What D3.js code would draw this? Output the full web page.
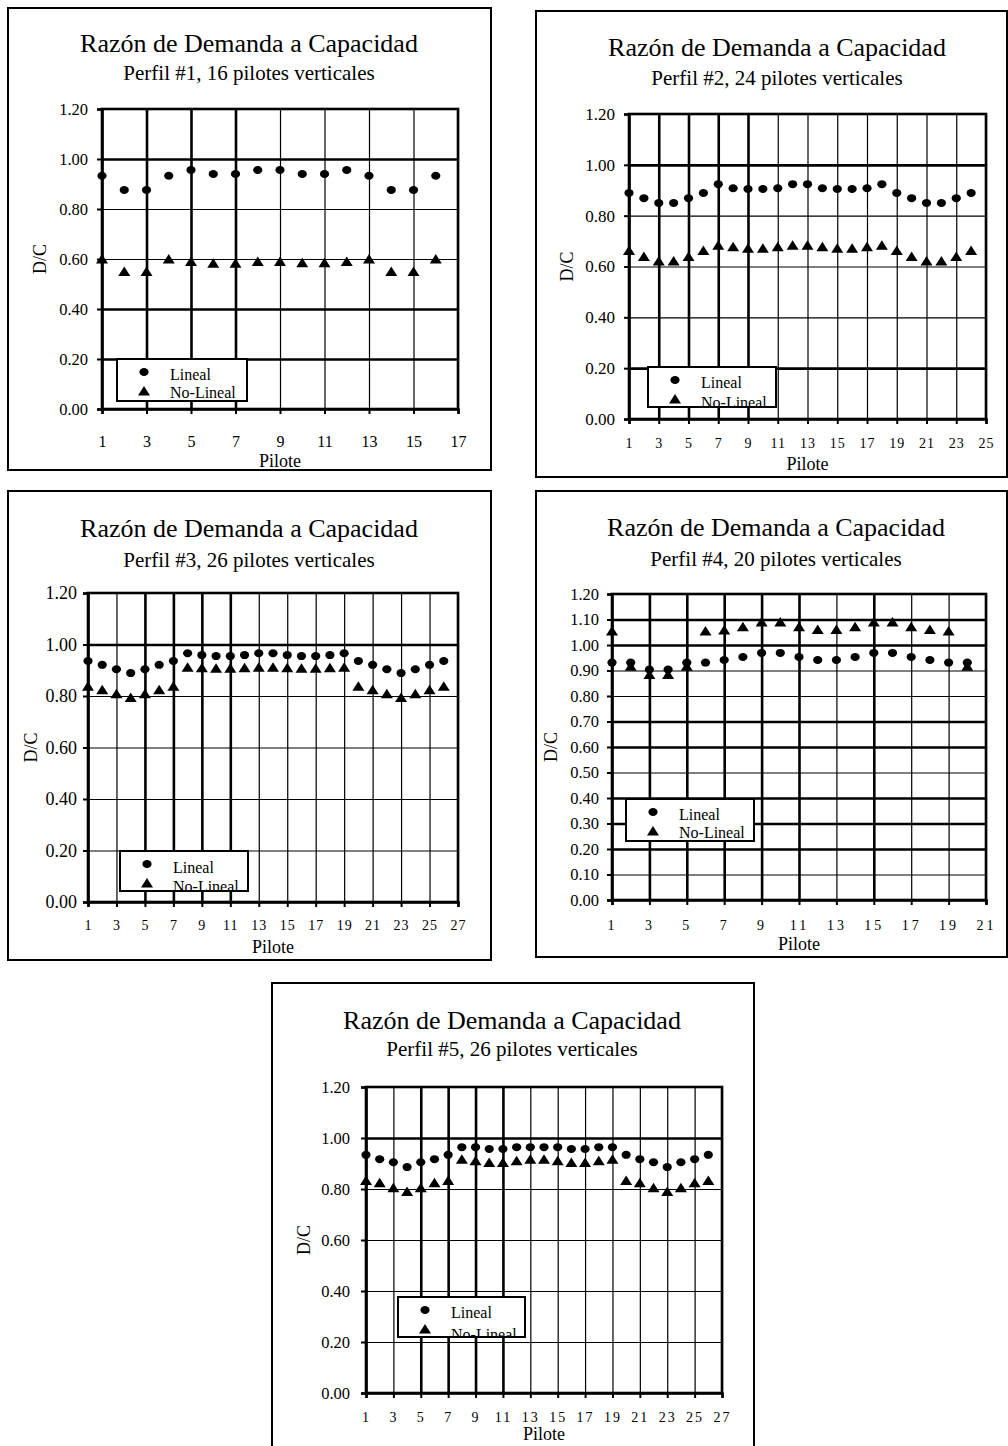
<!DOCTYPE html>
<html lang="es">
<head>
<meta charset="UTF-8">
<title>Razón de Demanda a Capacidad</title>
<script src="https://d3js.org/d3.v7.min.js"></script>
<style>
  body { margin: 0; background: #fff; }
  svg { display: block; font-family: "Liberation Serif", "Times New Roman", serif; }
</style>
</head>
<body>
<script>
const titulo = "Razón de Demanda a Capacidad";
const subtitulos = [
  "Perfil #1, 16 pilotes verticales",
  "Perfil #2, 24 pilotes verticales",
  "Perfil #3, 26 pilotes verticales",
  "Perfil #4, 20 pilotes verticales",
  "Perfil #5, 26 pilotes verticales"
];
const series = ["Lineal", "No-Lineal"];

// valores D/C, un valor por pilote (1..N)
const lineal1   = [0.933, 0.876, 0.876, 0.933, 0.956, 0.940, 0.940, 0.956, 0.956, 0.940, 0.940, 0.956, 0.933, 0.876, 0.876, 0.933];
const noLineal1 = [0.600, 0.550, 0.550, 0.600, 0.590, 0.583, 0.583, 0.590, 0.590, 0.585, 0.585, 0.590, 0.600, 0.550, 0.550, 0.600];

const lineal2   = [0.889, 0.869, 0.850, 0.850, 0.869, 0.889, 0.924, 0.908, 0.905, 0.905, 0.908, 0.924,
                   0.924, 0.908, 0.905, 0.905, 0.908, 0.924, 0.889, 0.869, 0.850, 0.850, 0.869, 0.889];
const noLineal2 = [0.663, 0.639, 0.622, 0.622, 0.639, 0.663, 0.684, 0.678, 0.672, 0.672, 0.678, 0.684,
                   0.684, 0.678, 0.672, 0.672, 0.678, 0.684, 0.663, 0.639, 0.622, 0.622, 0.639, 0.663];

const lineal3   = [0.936, 0.921, 0.904, 0.889, 0.904, 0.921, 0.936, 0.966, 0.959, 0.955, 0.955, 0.959, 0.966,
                   0.966, 0.959, 0.955, 0.955, 0.959, 0.966, 0.936, 0.921, 0.904, 0.889, 0.904, 0.921, 0.936];
const noLineal3 = [0.838, 0.824, 0.809, 0.794, 0.809, 0.824, 0.838, 0.912, 0.910, 0.908, 0.908, 0.910, 0.912,
                   0.912, 0.910, 0.908, 0.908, 0.910, 0.912, 0.838, 0.824, 0.809, 0.794, 0.809, 0.824, 0.838];

const lineal4   = [0.931, 0.931, 0.904, 0.904, 0.931, 0.931, 0.941, 0.953, 0.969, 0.969,
                   0.953, 0.941, 0.941, 0.953, 0.969, 0.969, 0.953, 0.941, 0.931, 0.931];
const noLineal4 = [1.055, 0.917, 0.884, 0.884, 0.917, 1.055, 1.059, 1.072, 1.090, 1.090,
                   1.072, 1.061, 1.061, 1.072, 1.090, 1.090, 1.072, 1.061, 1.055, 0.917];

const lineal5   = [0.934, 0.917, 0.905, 0.886, 0.905, 0.917, 0.934, 0.964, 0.964, 0.957, 0.957, 0.964, 0.964,
                   0.964, 0.964, 0.957, 0.957, 0.964, 0.964, 0.934, 0.917, 0.905, 0.886, 0.905, 0.917, 0.934];
const noLineal5 = [0.833, 0.825, 0.805, 0.790, 0.805, 0.825, 0.833, 0.917, 0.911, 0.904, 0.904, 0.911, 0.917,
                   0.917, 0.911, 0.904, 0.904, 0.911, 0.917, 0.833, 0.825, 0.805, 0.790, 0.805, 0.825, 0.833];

const xTicks1 = [1, 3, 5, 7, 9, 11, 13, 15, 17];
const xTicks2 = [1, 3, 5, 7, 9, 11, 13, 15, 17, 19, 21, 23, 25];
const xTicks3 = [1, 3, 5, 7, 9, 11, 13, 15, 17, 19, 21, 23, 25, 27];
const xTicks4 = [1, 3, 5, 7, 9, 11, 13, 15, 17, 19, 21];
const xTicks5 = [1, 3, 5, 7, 9, 11, 13, 15, 17, 19, 21, 23, 25, 27];

const yTicks  = [0, 0.2, 0.4, 0.6, 0.8, 1.0, 1.2];
const yTicks4 = [0, 0.1, 0.2, 0.3, 0.4, 0.5, 0.6, 0.7, 0.8, 0.9, 1.0, 1.1, 1.2];

const W = 1008, H = 1446;
const svg = d3.select("body").append("svg")
    .attr("width", W)
    .attr("height", H);

// posicion de cada panel en la pagina; gx/gy = lineas de rejilla que salen mas gruesas
const paneles = [
  { frame: [8, 8, 491, 470], plot: [102, 109, 458, 409], cx: 249, tY: 52, sY: 80,
    dcX: 40, yPad: 9, yFont: 16.5, xPad: 22, xFont: 16, xLs: 0, pY: 467,
    leg: [117, 359, 130, 42], legRows: [21, 39], gx: [3, 5, 7], gy: [1.0, 0.4, 0.2] },
  { frame: [536, 11, 1007, 477], plot: [629, 114, 986, 419], cx: 777, tY: 56, sY: 85,
    dcX: 567, yPad: 9, yFont: 17, xPad: 14, xFont: 14, xLs: 1, pY: 470,
    leg: [648, 367, 128, 40], legRows: [21, 41], gx: [3, 5, 7, 9], gy: [1.0, 0.2] },
  { frame: [8, 491, 491, 960], plot: [88, 593, 458, 902], cx: 249, tY: 537, sY: 567,
    dcX: 31, yPad: 6, yFont: 18, xPad: 13, xFont: 14, xLs: 1, pY: 953,
    leg: [120, 851, 128, 40], legRows: [22, 41], gx: [5, 7, 9, 11], gy: [1.0] },
  { frame: [536, 491, 1007, 957], plot: [612, 594, 986, 900], cx: 776, tY: 536, sY: 566,
    dcX: 551, yPad: 8, yFont: 16.5, xPad: 15, xFont: 14, xLs: 3, pY: 950,
    leg: [626, 799, 128, 42], legRows: [21, 39], gx: [3, 5, 7, 9, 11, 15],
    gy: [1.1, 1.0, 0.7, 0.6, 0.4, 0.3, 0.2] },
  { frame: [272, 983, 754, 1450], plot: [366, 1087, 722, 1393], cx: 512, tY: 1029, sY: 1056,
    dcX: 304, yPad: 11, yFont: 16.5, xPad: 14, xFont: 14, xLs: 2, pY: 1440,
    leg: [398, 1297, 127, 40], legRows: [21, 43], gx: [5, 7, 9, 11], gy: [1.0] }
];

const datos = [
  [lineal1, noLineal1, xTicks1, yTicks],
  [lineal2, noLineal2, xTicks2, yTicks],
  [lineal3, noLineal3, xTicks3, yTicks],
  [lineal4, noLineal4, xTicks4, yTicks4],
  [lineal5, noLineal5, xTicks5, yTicks]
];

const triangulo = "M0,-5L6,4.5L-6,4.5Z";
const grueso = (lista, v) => lista.some(t => Math.abs(t - v) < 1e-6) ? 2.6 : 1.2;

paneles.forEach((p, k) => {
  const [lin, nolin, xt, yt] = datos[k];
  const [x0, y0, x1, y1] = p.plot;
  const g = svg.append("g");

  // marco del panel
  g.append("rect")
      .attr("x", p.frame[0]).attr("y", p.frame[1])
      .attr("width", p.frame[2] - p.frame[0])
      .attr("height", p.frame[3] - p.frame[1])
      .attr("fill", "none").attr("stroke", "#000").attr("stroke-width", 2);

  g.append("text").attr("x", p.cx).attr("y", p.tY)
      .attr("text-anchor", "middle").attr("font-size", 26).text(titulo);
  g.append("text").attr("x", p.cx).attr("y", p.sY)
      .attr("text-anchor", "middle").attr("font-size", 21).text(subtitulos[k]);

  const x = d3.scaleLinear().domain([xt[0], xt[xt.length - 1]]).range([x0, x1]);
  const y = d3.scaleLinear().domain([0, 1.2]).range([y1, y0]);

  // rejilla
  g.append("g")
      .attr("transform", `translate(0,${y1})`)
      .call(d3.axisBottom(x).tickValues(xt).tickSize(-(y1 - y0)).tickFormat(""))
      .call(s => s.select(".domain").remove())
      .selectAll("line").attr("stroke-width", d => grueso(p.gx, d));
  g.append("g")
      .attr("transform", `translate(${x0},0)`)
      .call(d3.axisLeft(y).tickValues(yt).tickSize(-(x1 - x0)).tickFormat(""))
      .call(s => s.select(".domain").remove())
      .selectAll("line").attr("stroke-width", d => grueso(p.gy, d));

  g.append("rect")
      .attr("x", x0).attr("y", y0)
      .attr("width", x1 - x0).attr("height", y1 - y0)
      .attr("fill", "none").attr("stroke", "#000").attr("stroke-width", 2.6);

  // ejes
  const ax = g.append("g")
      .attr("transform", `translate(0,${y1})`)
      .call(d3.axisBottom(x).tickValues(xt).tickSize(5).tickPadding(p.xPad).tickFormat(d3.format("d")));
  ax.select(".domain").attr("stroke-width", 2.6);
  ax.selectAll("line").attr("stroke-width", 2);
  ax.selectAll("text").attr("font-size", p.xFont).attr("letter-spacing", p.xLs)
      .attr("font-family", "Liberation Serif").attr("fill", "#000");

  const ay = g.append("g")
      .attr("transform", `translate(${x0},0)`)
      .call(d3.axisLeft(y).tickValues(yt).tickSize(5).tickPadding(p.yPad).tickFormat(d3.format(".2f")));
  ay.select(".domain").attr("stroke-width", 2.6);
  ay.selectAll("line").attr("stroke-width", 2);
  ay.selectAll("text").attr("font-size", p.yFont)
      .attr("font-family", "Liberation Serif").attr("fill", "#000");

  g.append("text")
      .attr("transform", `translate(${p.dcX},${(y0 + y1) / 2}) rotate(-90)`)
      .attr("text-anchor", "middle").attr("dy", "0.35em")
      .attr("font-size", 18).text("D/C");
  g.append("text").attr("x", (x0 + x1) / 2).attr("y", p.pY)
      .attr("text-anchor", "middle").attr("font-size", 18).text("Pilote");

  // puntos
  g.append("g").selectAll("ellipse")
    .data(lin)
    .join("ellipse")
      .attr("cx", (d, i) => x(i + 1))
      .attr("cy", d => y(d))
      .attr("rx", 4.6).attr("ry", 4)
      .attr("fill", "#000");

  g.append("g").selectAll("path")
    .data(nolin)
    .join("path")
      .attr("transform", (d, i) => `translate(${x(i + 1)},${y(d)})`)
      .attr("d", triangulo)
      .attr("fill", "#000");

  // leyenda
  const [lx, ly, lw, lh] = p.leg;
  const clipId = "leg" + k;
  g.append("clipPath").attr("id", clipId)
    .append("rect").attr("x", lx).attr("y", ly).attr("width", lw).attr("height", lh);
  const lg = g.append("g");
  lg.append("rect").attr("x", lx).attr("y", ly).attr("width", lw).attr("height", lh)
      .attr("fill", "#fff");
  const lt = lg.append("g").attr("clip-path", `url(#${clipId})`);
  lt.append("ellipse").attr("cx", lx + 27).attr("cy", ly + 13)
      .attr("rx", 4.6).attr("ry", 4).attr("fill", "#000");
  lt.append("path").attr("transform", `translate(${lx + 27},${ly + 32})`)
      .attr("d", triangulo).attr("fill", "#000");
  series.forEach((s, j) => {
    lt.append("text").attr("x", lx + 53).attr("y", ly + p.legRows[j])
        .attr("font-size", 16).text(s);
  });
  lg.append("rect").attr("x", lx).attr("y", ly).attr("width", lw).attr("height", lh)
      .attr("fill", "none").attr("stroke", "#000").attr("stroke-width", 2);
});
</script>
</body>
</html>
